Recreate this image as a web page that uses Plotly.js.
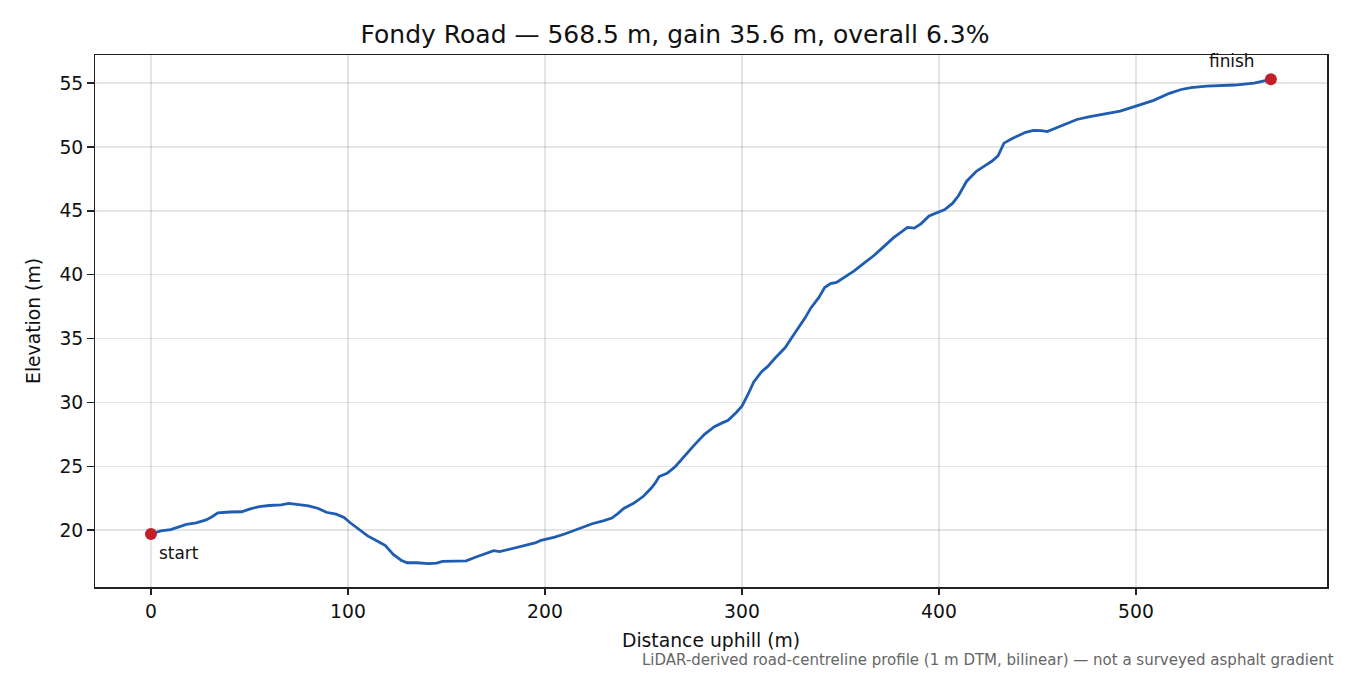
<!DOCTYPE html>
<html>
<head>
<meta charset="utf-8">
<script src="https://cdn.plot.ly/plotly-3.0.1.min.js"></script>
<style>body{margin:0;background:#fff}#chart{width:1350px;height:675px}</style>
</head>
<body>
<div id="chart"></div>
<script>
const distance = [0,5,10,15,18,23,28,31,34,40,46,50,55,60,66,70,75,80,85,89,94,98,101,105,110,116,119,123,127,130,135,141,145,148,152,157,160,165,170,174,177,182,187,191,195,198,201,205,210,215,220,224,230,234,237,240,245,250,254,256,258,262,266,269,273,276,281,286,290,293,297,300,303,306,310,313,317,322,325,329,332,335,339,342,345,348,352,357,362,367,372,377,381,384,387.5,391,395,399,403,407,410,414,419,424,427,430,433,437,440,444,448,452,455,460,465,470,476,482,492,500,509,517,523,528,536,550,560,568.5];
const elevation = [19.7,19.95,20.05,20.3,20.45,20.57,20.8,21.05,21.35,21.42,21.44,21.65,21.85,21.93,21.98,22.1,22.0,21.9,21.7,21.4,21.25,21.0,20.6,20.1,19.55,19.05,18.8,18.1,17.65,17.45,17.45,17.38,17.42,17.55,17.55,17.58,17.6,17.9,18.15,18.4,18.32,18.5,18.68,18.8,19.0,19.2,19.3,19.45,19.7,20.0,20.3,20.5,20.75,20.95,21.3,21.7,22.1,22.65,23.3,23.7,24.2,24.45,24.95,25.5,26.2,26.7,27.5,28.1,28.4,28.6,29.2,29.7,30.6,31.6,32.4,32.8,33.5,34.3,35.0,35.9,36.6,37.4,38.2,39.0,39.3,39.4,39.8,40.3,40.9,41.5,42.2,42.9,43.35,43.7,43.65,44.0,44.6,44.85,45.1,45.6,46.2,47.3,48.1,48.6,48.9,49.3,50.3,50.65,50.85,51.15,51.3,51.28,51.2,51.5,51.85,52.15,52.35,52.5,52.8,53.2,53.65,54.2,54.5,54.65,54.77,54.85,55.0,55.3];
const endLabels = ["start","finish"];
const titleText = "Fondy Road — 568.5 m, gain 35.6 m, overall 6.3%";
const xTitle = "Distance uphill (m)";
const yTitle = "Elevation (m)";
const note = "LiDAR-derived road-centreline profile (1 m DTM, bilinear) — not a surveyed asphalt gradient";

const n = distance.length;
const endX = [distance[0], distance[n-1]];
const endY = [elevation[0], elevation[n-1]];

const font = "DejaVu Sans, sans-serif";
const traces = [
  {x: distance, y: elevation, type: "scatter", mode: "lines",
   line: {color: "#1f5db3", width: 2.8}, hoverinfo: "skip"},
  {x: endX, y: endY, type: "scatter", mode: "markers",
   marker: {color: "#c41e2a", size: 12}, hoverinfo: "skip"}
];
const axisCommon = {
  showline: true, mirror: true, linecolor: "#222", linewidth: 1.5,
  ticks: "outside", ticklen: 6.5, tickwidth: 1.5, tickcolor: "#222",
  showgrid: true, gridcolor: "rgba(0,0,0,0.1)", gridwidth: 1.5,
  zeroline: false, tickfont: {size: 18.75, color: "#111", family: font}
};
const layout = {
  width: 1350, height: 675,
  margin: {l: 95, r: 23, t: 55, b: 88},
  paper_bgcolor: "#fff", plot_bgcolor: "#fff",
  showlegend: false,
  font: {family: font, color: "#111"},
  title: {text: titleText, font: {size: 25, family: font, color: "#111"}, x: 0.5, xanchor: "center", y: 0.95, yanchor: "middle"},
  xaxis: Object.assign({}, axisCommon, {range: [-28.4, 597], tickvals: [0,100,200,300,400,500],
    title: {text: xTitle, font: {size: 18.75, family: font}, standoff: 13}}),
  yaxis: Object.assign({}, axisCommon, {range: [15.55, 57.2], tickvals: [20,25,30,35,40,45,50,55],
    title: {text: yTitle, font: {size: 18.75, family: font}, standoff: 14}}),
  annotations: [
    {x: endX[0], y: endY[0], xref: "x", yref: "y", text: endLabels[0], showarrow: false,
     xanchor: "left", yanchor: "middle", xshift: 6, yshift: -19, font: {size: 16.9, family: font, color: "#111"}},
    {x: endX[1], y: endY[1], xref: "x", yref: "y", text: endLabels[1], showarrow: false,
     xanchor: "right", yanchor: "middle", xshift: -14, yshift: 18, font: {size: 16.9, family: font, color: "#111"}},
    {x: 1.0073, y: -0.137, xref: "paper", yref: "paper", text: note, showarrow: false,
     xanchor: "right", yanchor: "middle", font: {size: 15, family: font, color: "#666"}}
  ]
};
Plotly.newPlot("chart", traces, layout, {staticPlot: true, displayModeBar: false});
</script>
</body>
</html>
